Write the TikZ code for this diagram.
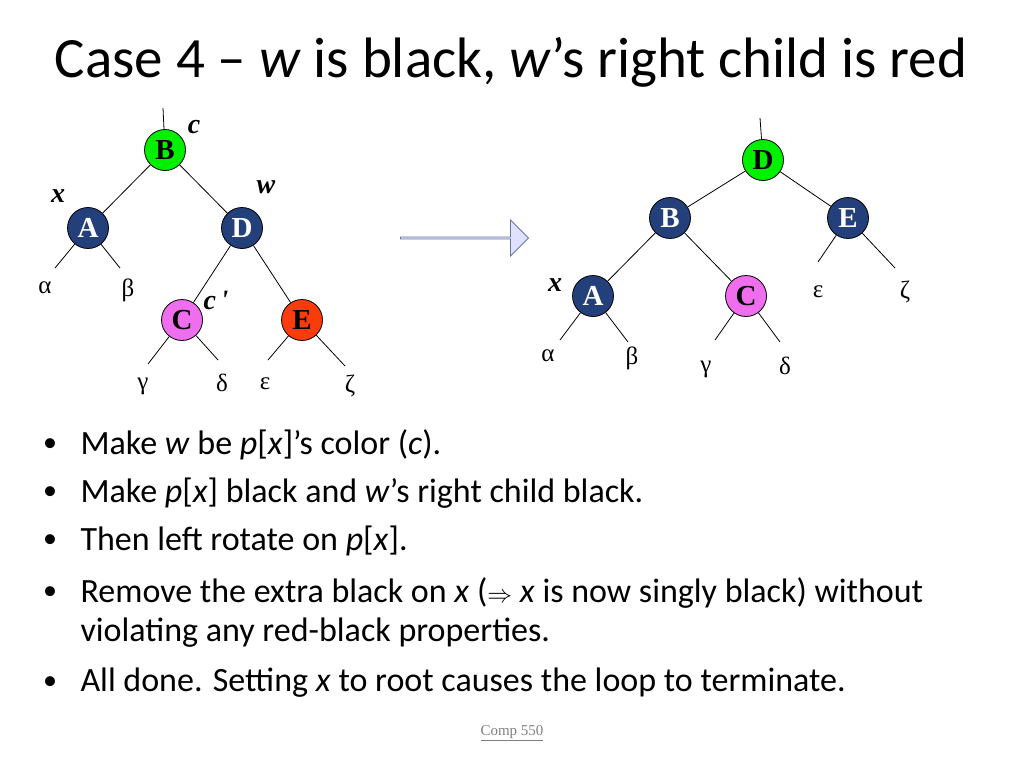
\documentclass[tikz,border=0pt]{standalone}
\usepackage{fontspec}
\setmainfont{Carlito}
\newfontfamily\tnr{Liberation Serif}
\usetikzlibrary{shapes.arrows}
\definecolor{navy}{RGB}{36,64,122}
\definecolor{vgreen}{RGB}{0,240,0}
\definecolor{vio}{RGB}{238,110,238}
\definecolor{ored}{RGB}{250,60,10}
\begin{document}
\begin{tikzpicture}[x=1pt,y=-1pt,
 rb/.style={circle,draw=black,line width=0.8pt,minimum size=41pt,inner sep=0pt,font=\tnr\fontsize{29}{29}\selectfont\bfseries},
 blk/.style={rb,fill=navy,text=white},
 grn/.style={rb,fill=vgreen},
 vl/.style={rb,fill=vio},
 rd/.style={rb,fill=ored},
 gk/.style={font=\tnr\fontsize{25}{25}\selectfont},
 lb/.style={font=\tnr\fontsize{28}{28}\selectfont\bfseries\itshape},
 ed/.style={line width=0.8pt},
 bl/.style={anchor=west,font=\fontsize{34}{34}\selectfont}]
\useasboundingbox (0,0) rectangle (1024,768);
\node[font=\fontsize{57}{57}\selectfont] (title) at (511,62) {Case 4 -- \textit{w} is black, \textit{w}'s right child is red};
% left tree
\node[grn] (B) at (165,150) {B};
\node[blk] (A) at (88,228) {A};
\node[blk] (D) at (242,228) {D};
\node[vl] (C) at (182,320) {C};
\node[rd] (E) at (302,320) {E};
\coordinate (top1) at (163,108);
\draw[ed] (top1) -- (B);
\draw[ed] (B)--(A) (B)--(D) (D)--(C) (D)--(E);
\coordinate (a1) at (55,268); \coordinate (a2) at (120,268);
\coordinate (c1) at (148,364); \coordinate (c2) at (218,360);
\coordinate (e1) at (268,360); \coordinate (e2) at (345,366);
\draw[ed] (A)--(a1) (A)--(a2) (C)--(c1) (C)--(c2) (E)--(e1) (E)--(e2);
\node[gk] (al1) at (45,288) {α};
\node[gk] (be1) at (128,290) {β};
\node[gk] (ga1) at (143,386) {γ};
\node[gk] (de1) at (222,383) {δ};
\node[gk] (ep1) at (265,384) {ε};
\node[gk] (ze1) at (350,386) {ζ};
\node[lb] (lc) at (194,127) {c};
\node[lb] (lw) at (266,187) {w};
\node[lb] (lx) at (58,196) {x};
\node[lb] (lcp) at (216,300) {c\,'};
% arrow
\node[single arrow,draw=navy!70,fill=blue!12,line width=0.8pt,minimum height=128pt,minimum width=36pt,single arrow head extend=7pt,single arrow head indent=0pt,inner sep=0pt,text width=0pt,shape border rotate=0] (arr) at (464,238) {};
% right tree
\node[grn] (D2) at (763,160) {D};
\node[blk] (B2) at (670,218) {B};
\node[blk] (E2) at (848,218) {E};
\node[blk] (A2) at (593,296) {A};
\node[vl] (C2) at (746,296) {C};
\coordinate (top2) at (760,118);
\draw[ed] (top2)--(D2);
\draw[ed] (D2)--(B2) (D2)--(E2) (B2)--(A2) (B2)--(C2);
\coordinate (f1) at (818,262); \coordinate (f2) at (895,268);
\coordinate (g1) at (560,340); \coordinate (g2) at (628,342);
\coordinate (h1) at (715,340); \coordinate (h2) at (780,342);
\draw[ed] (E2)--(f1) (E2)--(f2) (A2)--(g1) (A2)--(g2) (C2)--(h1) (C2)--(h2);
\node[gk] (ep2) at (818,292) {ε};
\node[gk] (ze2) at (905,292) {ζ};
\node[gk] (al2) at (548,356) {α};
\node[gk] (be2) at (632,358) {β};
\node[gk] (ga2) at (706,369) {γ};
\node[gk] (de2) at (785,366) {δ};
\node[lb] (lx2) at (555,285) {x};
% bullets
\foreach \y/\t in {445/{Make \textit{w} be \textit{p}[\textit{x}]'s color (\textit{c}).},
 493/{Make \textit{p}[\textit{x}] black and \textit{w}'s right child black.},
 541/{Then left rotate on \textit{p}[\textit{x}].},
 593/{Remove the extra black on \textit{x} ($\Rightarrow$ \textit{x} is now singly black) without},
 683/{All done. Setting \textit{x} to root causes the loop to terminate.}}
 {\node[font=\fontsize{28}{28}\selectfont] at (50,\y) {\textbullet}; \node[bl] at (77,\y) {\t};}
\node[bl] (cont) at (77,633) {violating any red-black properties.};
\node[font=\tnr\fontsize{15}{15}\selectfont,text=gray] (foot) at (512,733) {\underline{Comp 550}};
\end{tikzpicture}
\end{document}
